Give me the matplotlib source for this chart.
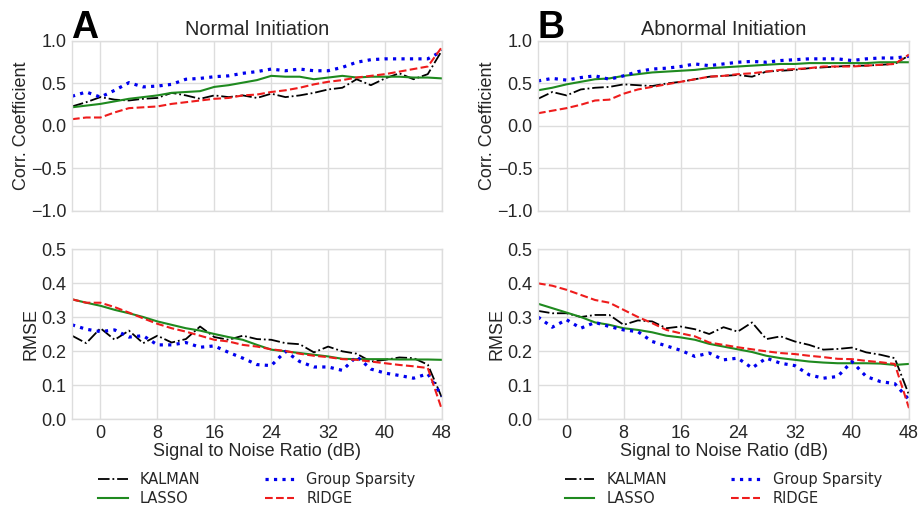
import numpy as np
import matplotlib
matplotlib.use("Agg")
import matplotlib.pyplot as plt

snr = [-4, -2, 0, 2, 4, 6, 8, 10, 12, 14, 16, 18, 20, 22, 24, 26, 28, 30, 32, 34, 36, 38, 40, 42, 44, 46, 48]

# Panel A: Normal Initiation
corr_A = {
    "KALMAN": [0.23, 0.28, 0.34, 0.31, 0.30, 0.32, 0.33, 0.39, 0.36, 0.32, 0.36, 0.34, 0.36, 0.33, 0.38, 0.34, 0.36, 0.39, 0.43, 0.45, 0.55, 0.48, 0.56, 0.62, 0.55, 0.61, 0.89],
    "LASSO": [0.22, 0.24, 0.26, 0.29, 0.32, 0.34, 0.36, 0.39, 0.40, 0.41, 0.46, 0.48, 0.51, 0.54, 0.59, 0.58, 0.58, 0.55, 0.57, 0.59, 0.57, 0.58, 0.58, 0.58, 0.57, 0.57, 0.56],
    "Group Sparsity": [0.35, 0.40, 0.34, 0.42, 0.51, 0.46, 0.47, 0.49, 0.55, 0.56, 0.58, 0.59, 0.62, 0.64, 0.67, 0.65, 0.67, 0.65, 0.65, 0.69, 0.75, 0.78, 0.79, 0.79, 0.79, 0.79, 0.88],
    "RIDGE": [0.08, 0.10, 0.10, 0.16, 0.21, 0.22, 0.23, 0.26, 0.28, 0.30, 0.32, 0.33, 0.36, 0.37, 0.40, 0.42, 0.45, 0.49, 0.52, 0.54, 0.57, 0.59, 0.61, 0.64, 0.67, 0.70, 0.93],
}
rmse_A = {
    "KALMAN": [0.245, 0.223, 0.267, 0.233, 0.260, 0.223, 0.245, 0.225, 0.235, 0.272, 0.241, 0.233, 0.245, 0.235, 0.233, 0.223, 0.220, 0.196, 0.213, 0.199, 0.192, 0.169, 0.174, 0.181, 0.179, 0.160, 0.062],
    "LASSO": [0.352, 0.342, 0.333, 0.321, 0.311, 0.300, 0.287, 0.277, 0.267, 0.260, 0.250, 0.241, 0.233, 0.218, 0.204, 0.199, 0.194, 0.189, 0.184, 0.177, 0.176, 0.176, 0.176, 0.175, 0.175, 0.175, 0.174],
    "Group Sparsity": [0.277, 0.264, 0.257, 0.262, 0.241, 0.245, 0.218, 0.218, 0.225, 0.211, 0.215, 0.196, 0.179, 0.160, 0.157, 0.199, 0.169, 0.153, 0.153, 0.143, 0.184, 0.147, 0.135, 0.128, 0.120, 0.133, 0.067],
    "RIDGE": [0.352, 0.342, 0.342, 0.329, 0.313, 0.296, 0.280, 0.267, 0.257, 0.245, 0.233, 0.228, 0.218, 0.213, 0.205, 0.200, 0.192, 0.186, 0.182, 0.176, 0.174, 0.169, 0.164, 0.159, 0.155, 0.150, 0.027],
}

# Panel B: Abnormal Initiation
corr_B = {
    "KALMAN": [0.32, 0.40, 0.36, 0.43, 0.45, 0.46, 0.49, 0.48, 0.47, 0.50, 0.52, 0.55, 0.58, 0.59, 0.60, 0.58, 0.64, 0.65, 0.66, 0.68, 0.69, 0.70, 0.71, 0.71, 0.72, 0.73, 0.83],
    "LASSO": [0.42, 0.45, 0.49, 0.52, 0.55, 0.56, 0.59, 0.61, 0.63, 0.64, 0.65, 0.66, 0.68, 0.69, 0.70, 0.71, 0.72, 0.73, 0.73, 0.74, 0.74, 0.74, 0.74, 0.74, 0.75, 0.75, 0.75],
    "Group Sparsity": [0.53, 0.56, 0.54, 0.57, 0.59, 0.55, 0.59, 0.64, 0.67, 0.68, 0.70, 0.73, 0.71, 0.73, 0.75, 0.76, 0.75, 0.77, 0.78, 0.79, 0.79, 0.79, 0.77, 0.79, 0.80, 0.80, 0.82],
    "RIDGE": [0.15, 0.18, 0.21, 0.25, 0.30, 0.31, 0.38, 0.43, 0.46, 0.49, 0.52, 0.55, 0.58, 0.59, 0.61, 0.62, 0.64, 0.66, 0.67, 0.68, 0.70, 0.70, 0.70, 0.71, 0.72, 0.73, 0.84],
}
rmse_B = {
    "KALMAN": [0.318, 0.311, 0.311, 0.300, 0.306, 0.306, 0.277, 0.290, 0.287, 0.267, 0.272, 0.264, 0.250, 0.270, 0.257, 0.284, 0.235, 0.243, 0.228, 0.218, 0.204, 0.206, 0.210, 0.196, 0.189, 0.179, 0.071],
    "LASSO": [0.339, 0.326, 0.313, 0.300, 0.284, 0.277, 0.267, 0.262, 0.255, 0.245, 0.240, 0.233, 0.221, 0.213, 0.205, 0.197, 0.186, 0.179, 0.174, 0.169, 0.166, 0.164, 0.164, 0.164, 0.163, 0.159, 0.162],
    "Group Sparsity": [0.300, 0.270, 0.292, 0.267, 0.284, 0.272, 0.262, 0.257, 0.228, 0.215, 0.202, 0.184, 0.194, 0.174, 0.179, 0.150, 0.179, 0.164, 0.157, 0.130, 0.120, 0.125, 0.169, 0.125, 0.110, 0.104, 0.057],
    "RIDGE": [0.399, 0.392, 0.380, 0.365, 0.350, 0.342, 0.321, 0.300, 0.282, 0.262, 0.252, 0.243, 0.225, 0.218, 0.211, 0.205, 0.199, 0.194, 0.191, 0.186, 0.182, 0.177, 0.176, 0.171, 0.167, 0.162, 0.032],
}

methods = ["KALMAN", "LASSO", "Group Sparsity", "RIDGE"]
styles = {
    "KALMAN": dict(color="black", linestyle="-.", linewidth=1.3),
    "LASSO": dict(color="#1f8a1f", linestyle="-", linewidth=1.5),
    "Group Sparsity": dict(color="#0000ee", linestyle=":", linewidth=2.3),
    "RIDGE": dict(color="#ee1c1c", linestyle="--", linewidth=1.5),
}

xticks = [0, 8, 16, 24, 32, 40, 48]
corr_ticks = [-1.0, -0.5, 0.0, 0.5, 1.0]
rmse_ticks = [0.0, 0.1, 0.2, 0.3, 0.4, 0.5]

plt.rcParams["font.family"] = ["Liberation Sans", "DejaVu Sans"]
txt = "#262626"
grid_c = "#dddddd"

W, H = 923, 508
fig = plt.figure(figsize=(W / 100, H / 100), dpi=100)

def rect(l, r, t, b):
    return [l / W, 1 - b / H, (r - l) / W, (b - t) / H]

def style_ax(ax):
    ax.set_facecolor("white")
    for s in ax.spines.values():
        s.set_color(grid_c)
        s.set_linewidth(1.0)
    ax.grid(True, color=grid_c, linewidth=1.0)
    ax.set_axisbelow(True)
    ax.tick_params(length=0, labelsize=13, colors=txt, pad=4)

panels = [
    (72, 442, "Normal Initiation", "A", corr_A, rmse_A),
    (538, 909, "Abnormal Initiation", "B", corr_B, rmse_B),
]

for l, r, title, letter, corr, rmse in panels:
    ax1 = fig.add_axes(rect(l, r, 41, 211))
    ax2 = fig.add_axes(rect(l, r, 249, 419))
    for m in methods:
        ax1.plot(snr, corr[m], label=m, **styles[m])
        ax2.plot(snr, rmse[m], label=m, **styles[m])
    for ax in (ax1, ax2):
        style_ax(ax)
        ax.set_xlim(-4, 48)
        ax.set_xticks(xticks)
    ax1.set_xticklabels([])
    ax1.set_ylim(-1.0, 1.0)
    ax1.set_yticks(corr_ticks)
    ax1.set_yticklabels(["\u22121.0", "\u22120.5", "0.0", "0.5", "1.0"])
    ax2.set_ylim(0.0, 0.5)
    ax2.set_yticks(rmse_ticks)
    ax2.set_yticklabels([f"{v:.1f}" for v in rmse_ticks])
    ax1.set_ylabel("Corr. Coefficient", fontsize=13, color=txt, labelpad=1)
    ax2.set_ylabel("RMSE", fontsize=13, color=txt, labelpad=1)
    ax2.set_xlabel("Signal to Noise Ratio (dB)", fontsize=13, color=txt, labelpad=1)
    ax1.set_title(title, fontsize=14.3, color=txt, pad=4)
    fig.text((l - 1) / W, 1 - 38 / H, letter, fontsize=27, fontweight="bold",
             color="black", ha="left", va="baseline")
    handles, labels = ax2.get_legend_handles_labels()
    leg = ax2.legend(handles, labels, loc="upper center", bbox_to_anchor=(0.5, -0.235),
                     ncol=2, frameon=False, columnspacing=4.4, handlelength=2.0,
                     handletextpad=0.85, labelspacing=0.3,
                     prop={"family": "DejaVu Sans", "size": 10.5})
    for t in leg.get_texts():
        t.set_color(txt)

fig.savefig("out.png", dpi=100, facecolor="white")
